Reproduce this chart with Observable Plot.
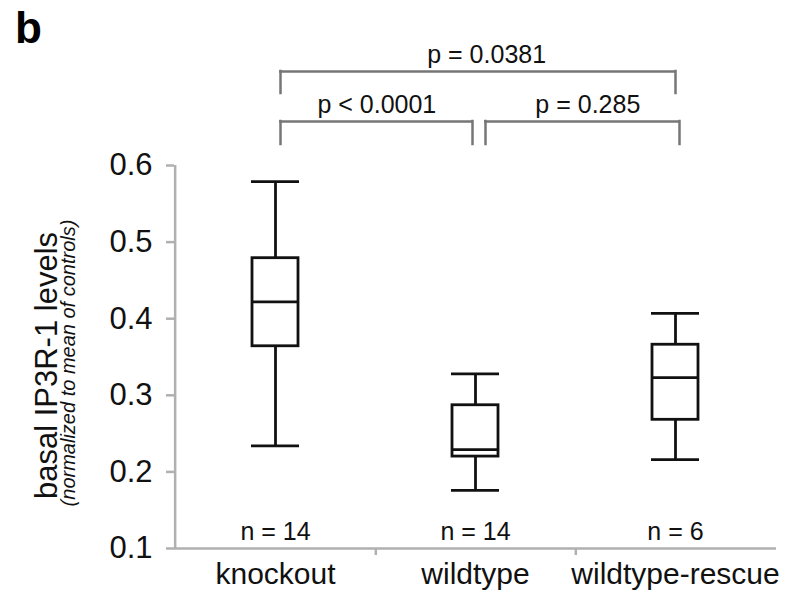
<!DOCTYPE html>
<html>
<head>
<meta charset="utf-8">
<script src="https://cdn.jsdelivr.net/npm/d3@7"></script>
<script src="https://cdn.jsdelivr.net/npm/@observablehq/plot@0.6"></script>
<style>
  html, body { margin: 0; padding: 0; background: #fff; }
</style>
</head>
<body>
<div id="chart"></div>
<script>
// ---- data ----
const groups = ["knockout", "wildtype", "wildtype-rescue"];
const lowWhisker  = [0.234, 0.176, 0.216];
const q1          = [0.364, 0.220, 0.268];
const median      = [0.422, 0.229, 0.323];
const q3          = [0.479, 0.287, 0.366];
const highWhisker = [0.579, 0.328, 0.407];
const nLabels     = ["n = 14", "n = 14", "n = 6"];
const yTicks      = [0.1, 0.2, 0.3, 0.4, 0.5, 0.6];

const compFrom  = ["knockout", "wildtype", "knockout"];
const compTo    = ["wildtype", "wildtype-rescue", "wildtype-rescue"];
const compLabel = ["p < 0.0001", "p = 0.285", "p = 0.0381"];
const compTier  = [0, 0, 1];

const panelLabel = "b";
const yLabel = "basal IP3R-1 levels";
const ySubLabel = "(normalized to mean of controls)";

// ---- tables built from the arrays ----
const boxes = groups.map((g, i) => ({
  group: g, lo: lowWhisker[i], q1: q1[i], med: median[i], q3: q3[i], hi: highWhisker[i], n: nLabels[i]
}));
const comps = compFrom.map((f, i) => ({from: f, to: compTo[i], label: compLabel[i], tier: compTier[i]}));

// ---- layout / style ----
const W = 791, H = 591, ML = 174, MR = 15, MT = 165, MB = 43;
const bw = (W - ML - MR) / groups.length;
const yTop = yTicks[yTicks.length - 1];
const font = "'Liberation Sans', Arial, Helvetica, sans-serif";
const axisGray = "#b0b0b0";
const bracketGray = "#767676";
const boxInset = 77, capInset = 76, boxStroke = 2.8;

// bracket geometry (pixels) by tier
const tierLine = [121, 71];
const tierLegEnd = [144, 93];
const tierText = [112, 62];
const endOffsets = [[5, -3], [10, 4], [5, 0]];
const textShift = [0, 5, 8];

const marks = [
  // axes lines
  Plot.ruleX([groups[0]], {dx: -bw / 2, stroke: axisGray, strokeWidth: 2.5}),
  Plot.ruleY([yTicks[0]], {stroke: axisGray, strokeWidth: 2.5}),
  Plot.ruleX(groups.slice(0, -1), {dx: bw / 2, insetTop: H - MB - MT, insetBottom: -7, stroke: axisGray, strokeWidth: 2.5}),
  Plot.axisY({ticks: yTicks, tickFormat: d3.format(".1f"), tickSize: 8, tickPadding: 14, fontSize: 31,
    stroke: axisGray, strokeWidth: 2.5, fill: "#111", label: null}),
  Plot.axisX({tickSize: 0, tickPadding: 14, fontSize: 30, fill: "#111", label: null}),

  // whiskers
  Plot.ruleX(boxes, {x: "group", y1: "q3", y2: "hi", stroke: "#111", strokeWidth: boxStroke}),
  Plot.ruleX(boxes, {x: "group", y1: "lo", y2: "q1", stroke: "#111", strokeWidth: boxStroke}),
  Plot.tickY(boxes, {x: "group", y: "hi", insetLeft: capInset, insetRight: capInset, stroke: "#111", strokeWidth: boxStroke}),
  Plot.tickY(boxes, {x: "group", y: "lo", insetLeft: capInset, insetRight: capInset, stroke: "#111", strokeWidth: boxStroke}),
  // boxes
  Plot.barY(boxes, {x: "group", y1: "q1", y2: "q3", insetLeft: boxInset, insetRight: boxInset,
    fill: "white", stroke: "#111", strokeWidth: boxStroke}),
  Plot.tickY(boxes, {x: "group", y: "med", insetLeft: boxInset, insetRight: boxInset, stroke: "#111", strokeWidth: boxStroke}),

  // n labels
  Plot.text(boxes, {x: "group", text: "n", frameAnchor: "bottom", lineAnchor: "bottom", dy: -9, fontSize: 25, fill: "#111"}),

  // y label
  Plot.text([yLabel], {frameAnchor: "left", rotate: -90, text: d => d, textAnchor: "middle", lineAnchor: "middle",
    dx: -127, dy: 8.5, fontSize: 31, fill: "#111"}),
  Plot.text([ySubLabel], {frameAnchor: "left", rotate: -90, text: d => d, textAnchor: "middle", lineAnchor: "middle",
    dx: -106, dy: 6, fontSize: 20, fontStyle: "italic", fill: "#111"}),

  // panel label
  Plot.text([panelLabel], {frameAnchor: "top-left", text: d => d, textAnchor: "start", lineAnchor: "bottom",
    dx: 14.5 - ML, dy: 42 - MT, fontSize: 44, fontWeight: "bold", fill: "#000"})
];

comps.forEach((c, i) => {
  const [lo, ro] = endOffsets[i];
  const t = c.tier;
  const common = {stroke: bracketGray, strokeWidth: 2.5, strokeLinecap: "square"};
  marks.push(Plot.ruleY([c], {y: () => yTop, x1: "from", x2: "to", insetLeft: bw / 2 + lo, insetRight: bw / 2 - ro,
    dy: tierLine[t] - MT, ...common}));
  marks.push(Plot.ruleX([c], {x: "from", dx: lo, insetTop: tierLine[t] - MT, insetBottom: (H - MB) - tierLegEnd[t], ...common}));
  marks.push(Plot.ruleX([c], {x: "to", dx: ro, insetTop: tierLine[t] - MT, insetBottom: (H - MB) - tierLegEnd[t], ...common}));
  const span = groups.indexOf(c.to) - groups.indexOf(c.from);
  marks.push(Plot.text([c], {x: "from", text: "label", frameAnchor: "top", textAnchor: "middle", lineAnchor: "bottom",
    dx: span * bw / 2 + (lo + ro) / 2 + textShift[i], dy: tierText[t] - MT, fontSize: 25, fill: "#111"}));
});

const chart = Plot.plot({
  width: W, height: H,
  marginLeft: ML, marginRight: MR, marginTop: MT, marginBottom: MB,
  x: {type: "band", domain: groups, padding: 0, axis: null},
  y: {domain: [0.1, 0.6], axis: null},
  style: {fontFamily: font, background: "white", color: "#111", overflow: "visible"},
  marks
});
document.getElementById("chart").appendChild(chart);
</script>
</body>
</html>
